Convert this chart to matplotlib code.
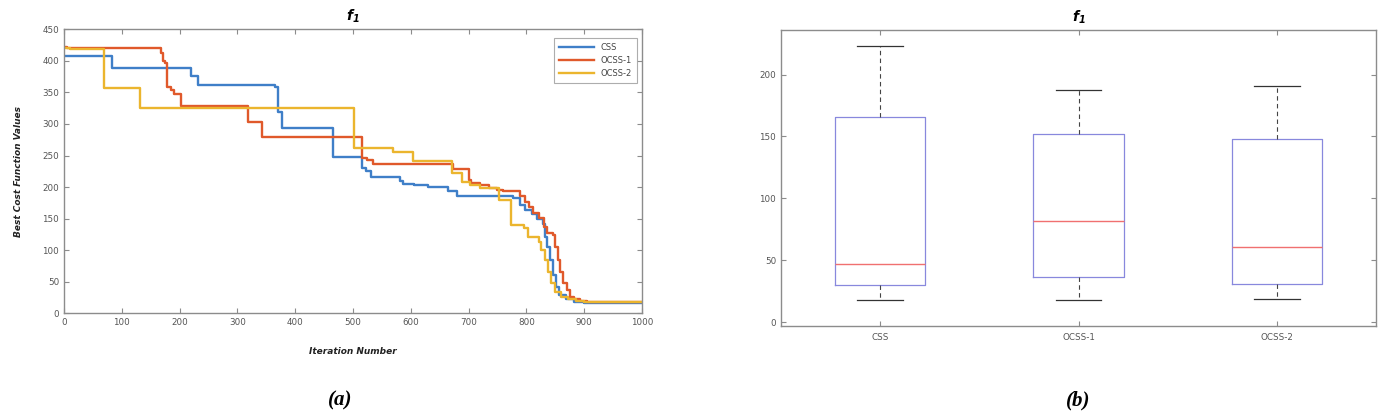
import matplotlib
matplotlib.use("Agg")
import matplotlib.pyplot as plt

plt.rcParams["mathtext.fontset"] = "custom"
plt.rcParams["mathtext.it"] = "DejaVu Sans:bold:italic"
plt.rcParams["mathtext.rm"] = "DejaVu Sans:bold:italic"

# ---------------- data: convergence curves (step breakpoints) ----------------
css_iter = [0, 83, 219, 231, 365, 371, 378, 466, 515, 522, 531, 581, 586, 605, 630,
            665, 680, 777, 789, 798, 809, 819, 829, 832, 836, 840, 846, 851, 857,
            868, 882, 900, 1000]
css_val = [407, 389, 376, 362, 358, 319, 294, 248, 231, 225, 216, 209, 205, 203, 200,
           193, 186, 182, 172, 164, 158, 149, 142, 121, 105, 85, 61, 42, 29,
           22, 18, 16.5, 16.5]

ocss1_iter = [0, 5, 168, 172, 175, 178, 185, 190, 203, 318, 343, 515, 525, 534, 673,
              700, 705, 720, 735, 750, 760, 789, 797, 805, 812, 822, 830, 836, 846,
              849, 854, 858, 864, 870, 876, 882, 893, 905, 1000]
ocss1_val = [422, 420, 412, 400, 396, 358, 354, 347, 329, 303, 280, 246, 243, 237, 228,
             211, 207, 203, 199, 196, 193, 186, 177, 169, 158.5, 150.5, 137, 127, 124,
             105, 85, 66, 48, 37, 26, 22, 19.5, 17.5, 17.5]

ocss2_iter = [0, 10, 70, 132, 501, 570, 604, 671, 688, 702, 720, 752, 773, 796, 803,
              821, 826, 832, 838, 843, 849, 860, 872, 885, 900, 1000]
ocss2_val = [421, 418, 357, 326, 261.5, 256, 241.5, 222, 208.6, 203, 198, 180, 140, 134.7, 121.4,
             113.5, 100, 84.5, 66, 47.5, 34, 26, 22, 20, 18.5, 18.5]

series_names = ["CSS", "OCSS-1", "OCSS-2"]
series_colors = ["#3F7FC8", "#E0592B", "#EBB52E"]

# ---------------- data: box plot statistics ----------------
box_labels = ["CSS", "OCSS-1", "OCSS-2"]
box_whislo = [17.9, 17.9, 19.0]
box_q1 = [29.9, 36.3, 31.0]
box_med = [47.3, 81.7, 60.9]
box_q3 = [165.3, 151.9, 147.9]
box_whishi = [223.2, 187.7, 190.7]

# ---------------- figure ----------------
W, H = 1396, 415
fig = plt.figure(figsize=(W / 100, H / 100), dpi=100)

def ax_rect(l, r, t, b):
    return [l / W, 1 - b / H, (r - l) / W, (b - t) / H]

tick_color = "#555555"
spine_color = "#8c8c8c"

def style_axes(ax):
    for s in ax.spines.values():
        s.set_color(spine_color)
        s.set_linewidth(1.0)
    ax.tick_params(direction="in", length=3.5, width=0.8, colors=spine_color,
                   labelcolor=tick_color, labelsize=6.3, top=True, right=True)

# ---- (a) convergence ----
ax1 = fig.add_axes(ax_rect(64, 642, 29.3, 313.3))
for xs, ys, name, c in zip([css_iter, ocss1_iter, ocss2_iter],
                           [css_val, ocss1_val, ocss2_val],
                           series_names, series_colors):
    ax1.step(xs, ys, where="post", color=c, lw=1.7, label=name)
ax1.set_xlim(0, 1000)
ax1.set_ylim(0, 450)
ax1.set_xticks(range(0, 1001, 100))
ax1.set_yticks(range(0, 451, 50))
style_axes(ax1)
ax1.set_title("$f_1$", fontsize=10, pad=6)
ax1.set_xlabel("Iteration Number", fontsize=6.5, fontweight="bold", style="italic",
               labelpad=14, color="#222222")
ax1.set_ylabel("Best Cost Function Values", fontsize=6.5, fontweight="bold", style="italic",
               labelpad=14, color="#222222")
leg = ax1.legend(loc="upper right", fontsize=6, frameon=True, fancybox=False,
                 borderpad=0.6, handlelength=4.2, labelspacing=0.5,
                 bbox_to_anchor=(0.998, 0.985))
leg.get_frame().set_edgecolor("#999999")
leg.get_frame().set_linewidth(0.8)
for t in leg.get_texts():
    t.set_color("#444444")

# ---- (b) box plot ----
ax2 = fig.add_axes(ax_rect(781, 1376, 30, 326))
stats = []
for i in range(3):
    stats.append(dict(label=box_labels[i], whislo=box_whislo[i], q1=box_q1[i],
                      med=box_med[i], q3=box_q3[i], whishi=box_whishi[i], fliers=[]))
ax2.bxp(stats, positions=[1, 2, 3], widths=0.455, showfliers=False,
        boxprops=dict(color="#8888dd", lw=0.9),
        medianprops=dict(color="#f07070", lw=1.0),
        whiskerprops=dict(color="#444444", lw=0.8, linestyle=(0, (4, 3))),
        capprops=dict(color="#333333", lw=0.9),
        capwidths=0.23)
ax2.set_xlim(0.5, 3.5)
ax2.set_ylim(-3.2, 236)
ax2.set_yticks(range(0, 201, 50))
ax2.set_xticks([1, 2, 3])
ax2.set_xticklabels(box_labels)
style_axes(ax2)
ax2.tick_params(axis="x", pad=5)
ax2.set_title("$f_1$", fontsize=10, pad=6)

# ---- panel labels ----
fig.text(340 / W, 1 - 400 / H, "(a)", ha="center", va="center", fontsize=15,
         fontweight="bold", style="italic", family="Liberation Serif")
fig.text(1078 / W, 1 - 400 / H, "(b)", ha="center", va="center", fontsize=15,
         fontweight="bold", style="italic", family="Liberation Serif")

fig.savefig("out.png", dpi=100)
